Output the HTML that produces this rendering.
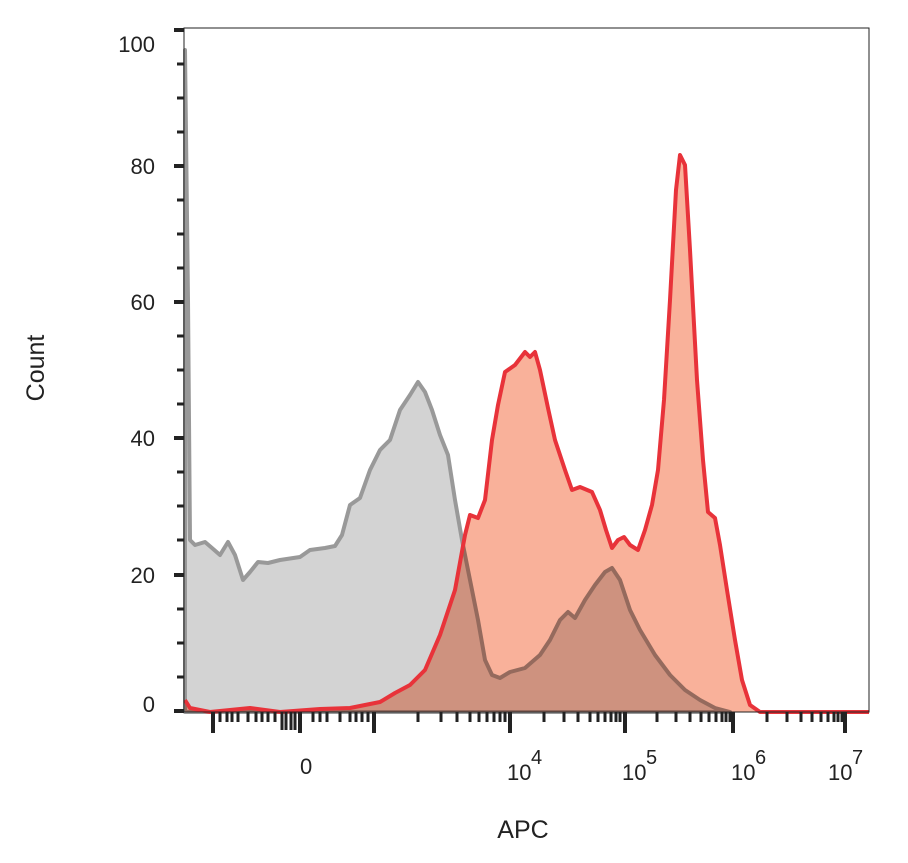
<!DOCTYPE html>
<html><head><style>body{margin:0;background:#fff}svg{display:block}</style></head><body>
<svg width="908" height="863" viewBox="0 0 908 863" xmlns="http://www.w3.org/2000/svg" font-family="Liberation Sans, sans-serif">
<rect width="908" height="863" fill="#fff"/>
<path d="M185,712 L185,50 L188,300 L190,540 L195,545 L205,542 L212,548 L220,555 L228,542 L235,555 L243,580 L250,572 L258,562 L268,563 L280,560 L300,557 L310,550 L325,548 L335,546 L342,535 L350,505 L360,498 L370,470 L380,450 L390,440 L400,410 L410,395 L418,382 L425,392 L432,410 L440,435 L448,455 L455,500 L462,540 L470,580 L478,620 L485,660 L492,675 L500,678 L510,672 L525,668 L540,655 L550,640 L560,620 L568,612 L575,618 L585,600 L595,585 L605,572 L612,568 L620,580 L630,610 L640,630 L655,655 L670,675 L685,690 L700,700 L715,708 L730,712 Z" fill="#d3d3d3" stroke="#999" stroke-width="4" stroke-linejoin="round"/>
<path d="M185,712 L185,700 L190,708 L210,712 L250,708 L280,712 L320,709 L350,708 L380,702 L395,693 L410,685 L425,670 L440,635 L455,590 L465,535 L470,515 L478,518 L485,500 L492,440 L498,405 L505,372 L515,365 L525,352 L530,357 L535,352 L540,370 L548,408 L555,440 L565,470 L572,490 L580,487 L592,492 L600,510 L606,530 L612,548 L618,540 L624,537 L630,545 L638,550 L645,530 L652,505 L658,470 L664,400 L670,300 L676,190 L680,155 L685,165 L690,250 L697,380 L703,460 L708,512 L715,518 L720,545 L727,590 L735,640 L742,680 L750,705 L760,712 L869,712 Z" fill="#f9b19a" style="mix-blend-mode:multiply"/>
<path d="M185,700 L190,708 L210,712 L250,708 L280,712 L320,709 L350,708 L380,702 L395,693 L410,685 L425,670 L440,635 L455,590 L465,535 L470,515 L478,518 L485,500 L492,440 L498,405 L505,372 L515,365 L525,352 L530,357 L535,352 L540,370 L548,408 L555,440 L565,470 L572,490 L580,487 L592,492 L600,510 L606,530 L612,548 L618,540 L624,537 L630,545 L638,550 L645,530 L652,505 L658,470 L664,400 L670,300 L676,190 L680,155 L685,165 L690,250 L697,380 L703,460 L708,512 L715,518 L720,545 L727,590 L735,640 L742,680 L750,705 L760,712 L869,712" fill="none" stroke="#e8333a" stroke-width="4" stroke-linejoin="round"/>
<rect x="184" y="28" width="685" height="684" fill="none" stroke="#222" stroke-width="1"/>
<g stroke="#222">
<line x1="174" y1="30" x2="184" y2="30" stroke-width="4"/>
<line x1="174" y1="166" x2="184" y2="166" stroke-width="4"/>
<line x1="174" y1="302" x2="184" y2="302" stroke-width="4"/>
<line x1="174" y1="438" x2="184" y2="438" stroke-width="4"/>
<line x1="174" y1="575" x2="184" y2="575" stroke-width="4"/>
<line x1="174" y1="711" x2="184" y2="711" stroke-width="4"/>
<g stroke-width="3">
<line x1="177" y1="64" x2="184" y2="64"/><line x1="177" y1="98" x2="184" y2="98"/><line x1="177" y1="132" x2="184" y2="132"/>
<line x1="177" y1="200" x2="184" y2="200"/><line x1="177" y1="234" x2="184" y2="234"/><line x1="177" y1="268" x2="184" y2="268"/>
<line x1="177" y1="336" x2="184" y2="336"/><line x1="177" y1="370" x2="184" y2="370"/><line x1="177" y1="404" x2="184" y2="404"/>
<line x1="177" y1="472" x2="184" y2="472"/><line x1="177" y1="506" x2="184" y2="506"/><line x1="177" y1="540" x2="184" y2="540"/>
<line x1="177" y1="609" x2="184" y2="609"/><line x1="177" y1="643" x2="184" y2="643"/><line x1="177" y1="677" x2="184" y2="677"/>
</g>
<g stroke-width="4">
<line x1="213" y1="712" x2="213" y2="733"/><line x1="300" y1="712" x2="300" y2="733"/><line x1="374" y1="712" x2="374" y2="733"/>
<line x1="510" y1="712" x2="510" y2="733"/><line x1="625" y1="712" x2="625" y2="733"/><line x1="733" y1="712" x2="733" y2="733"/><line x1="845" y1="712" x2="845" y2="733"/>
</g>
<g stroke-width="3">
<line x1="220" y1="712" x2="220" y2="722"/><line x1="227" y1="712" x2="227" y2="722"/><line x1="232" y1="712" x2="232" y2="722"/><line x1="238" y1="712" x2="238" y2="722"/><line x1="248" y1="712" x2="248" y2="722"/><line x1="256" y1="712" x2="256" y2="722"/><line x1="262" y1="712" x2="262" y2="722"/><line x1="268" y1="712" x2="268" y2="722"/><line x1="275" y1="712" x2="275" y2="722"/>
<line x1="282" y1="712" x2="282" y2="730"/><line x1="286" y1="712" x2="286" y2="730"/><line x1="291" y1="712" x2="291" y2="730"/><line x1="295" y1="712" x2="295" y2="730"/>
<line x1="313" y1="712" x2="313" y2="722"/><line x1="320" y1="712" x2="320" y2="722"/><line x1="327" y1="712" x2="327" y2="722"/><line x1="340" y1="712" x2="340" y2="722"/><line x1="350" y1="712" x2="350" y2="722"/><line x1="356" y1="712" x2="356" y2="722"/><line x1="362" y1="712" x2="362" y2="722"/><line x1="368" y1="712" x2="368" y2="722"/>
<line x1="418" y1="712" x2="418" y2="722"/><line x1="441" y1="712" x2="441" y2="722"/><line x1="457" y1="712" x2="457" y2="722"/><line x1="470" y1="712" x2="470" y2="722"/><line x1="479" y1="712" x2="479" y2="722"/><line x1="487" y1="712" x2="487" y2="722"/><line x1="494" y1="712" x2="494" y2="722"/><line x1="500" y1="712" x2="500" y2="722"/><line x1="505" y1="712" x2="505" y2="722"/>
<line x1="544" y1="712" x2="544" y2="722"/><line x1="564" y1="712" x2="564" y2="722"/><line x1="578" y1="712" x2="578" y2="722"/><line x1="590" y1="712" x2="590" y2="722"/><line x1="598" y1="712" x2="598" y2="722"/><line x1="605" y1="712" x2="605" y2="722"/><line x1="611" y1="712" x2="611" y2="722"/><line x1="616" y1="712" x2="616" y2="722"/><line x1="620" y1="712" x2="620" y2="722"/>
<line x1="657" y1="712" x2="657" y2="722"/><line x1="676" y1="712" x2="676" y2="722"/><line x1="690" y1="712" x2="690" y2="722"/><line x1="701" y1="712" x2="701" y2="722"/><line x1="709" y1="712" x2="709" y2="722"/><line x1="716" y1="712" x2="716" y2="722"/><line x1="722" y1="712" x2="722" y2="722"/><line x1="726" y1="712" x2="726" y2="722"/><line x1="730" y1="712" x2="730" y2="722"/>
<line x1="767" y1="712" x2="767" y2="722"/><line x1="787" y1="712" x2="787" y2="722"/><line x1="801" y1="712" x2="801" y2="722"/><line x1="812" y1="712" x2="812" y2="722"/><line x1="821" y1="712" x2="821" y2="722"/><line x1="828" y1="712" x2="828" y2="722"/><line x1="834" y1="712" x2="834" y2="722"/><line x1="838" y1="712" x2="838" y2="722"/><line x1="842" y1="712" x2="842" y2="722"/>
</g>
</g>
<g font-size="22" fill="#222" text-anchor="end">
<text x="155" y="52">100</text><text x="155" y="174">80</text><text x="155" y="310">60</text><text x="155" y="446">40</text><text x="155" y="583">20</text><text x="155" y="712">0</text>
</g>
<g font-size="22" fill="#222">
<text x="300" y="774">0</text>
<text x="507" y="780">10</text><text x="531" y="764" font-size="20">4</text>
<text x="622" y="780">10</text><text x="646" y="764" font-size="20">5</text>
<text x="731" y="780">10</text><text x="755" y="764" font-size="20">6</text>
<text x="828" y="780">10</text><text x="852" y="764" font-size="20">7</text>
</g>
<text x="523" y="838" font-size="25" fill="#222" text-anchor="middle">APC</text>
<text transform="translate(44,368) rotate(-90)" font-size="25" fill="#222" text-anchor="middle">Count</text>
</svg>
</body></html>
